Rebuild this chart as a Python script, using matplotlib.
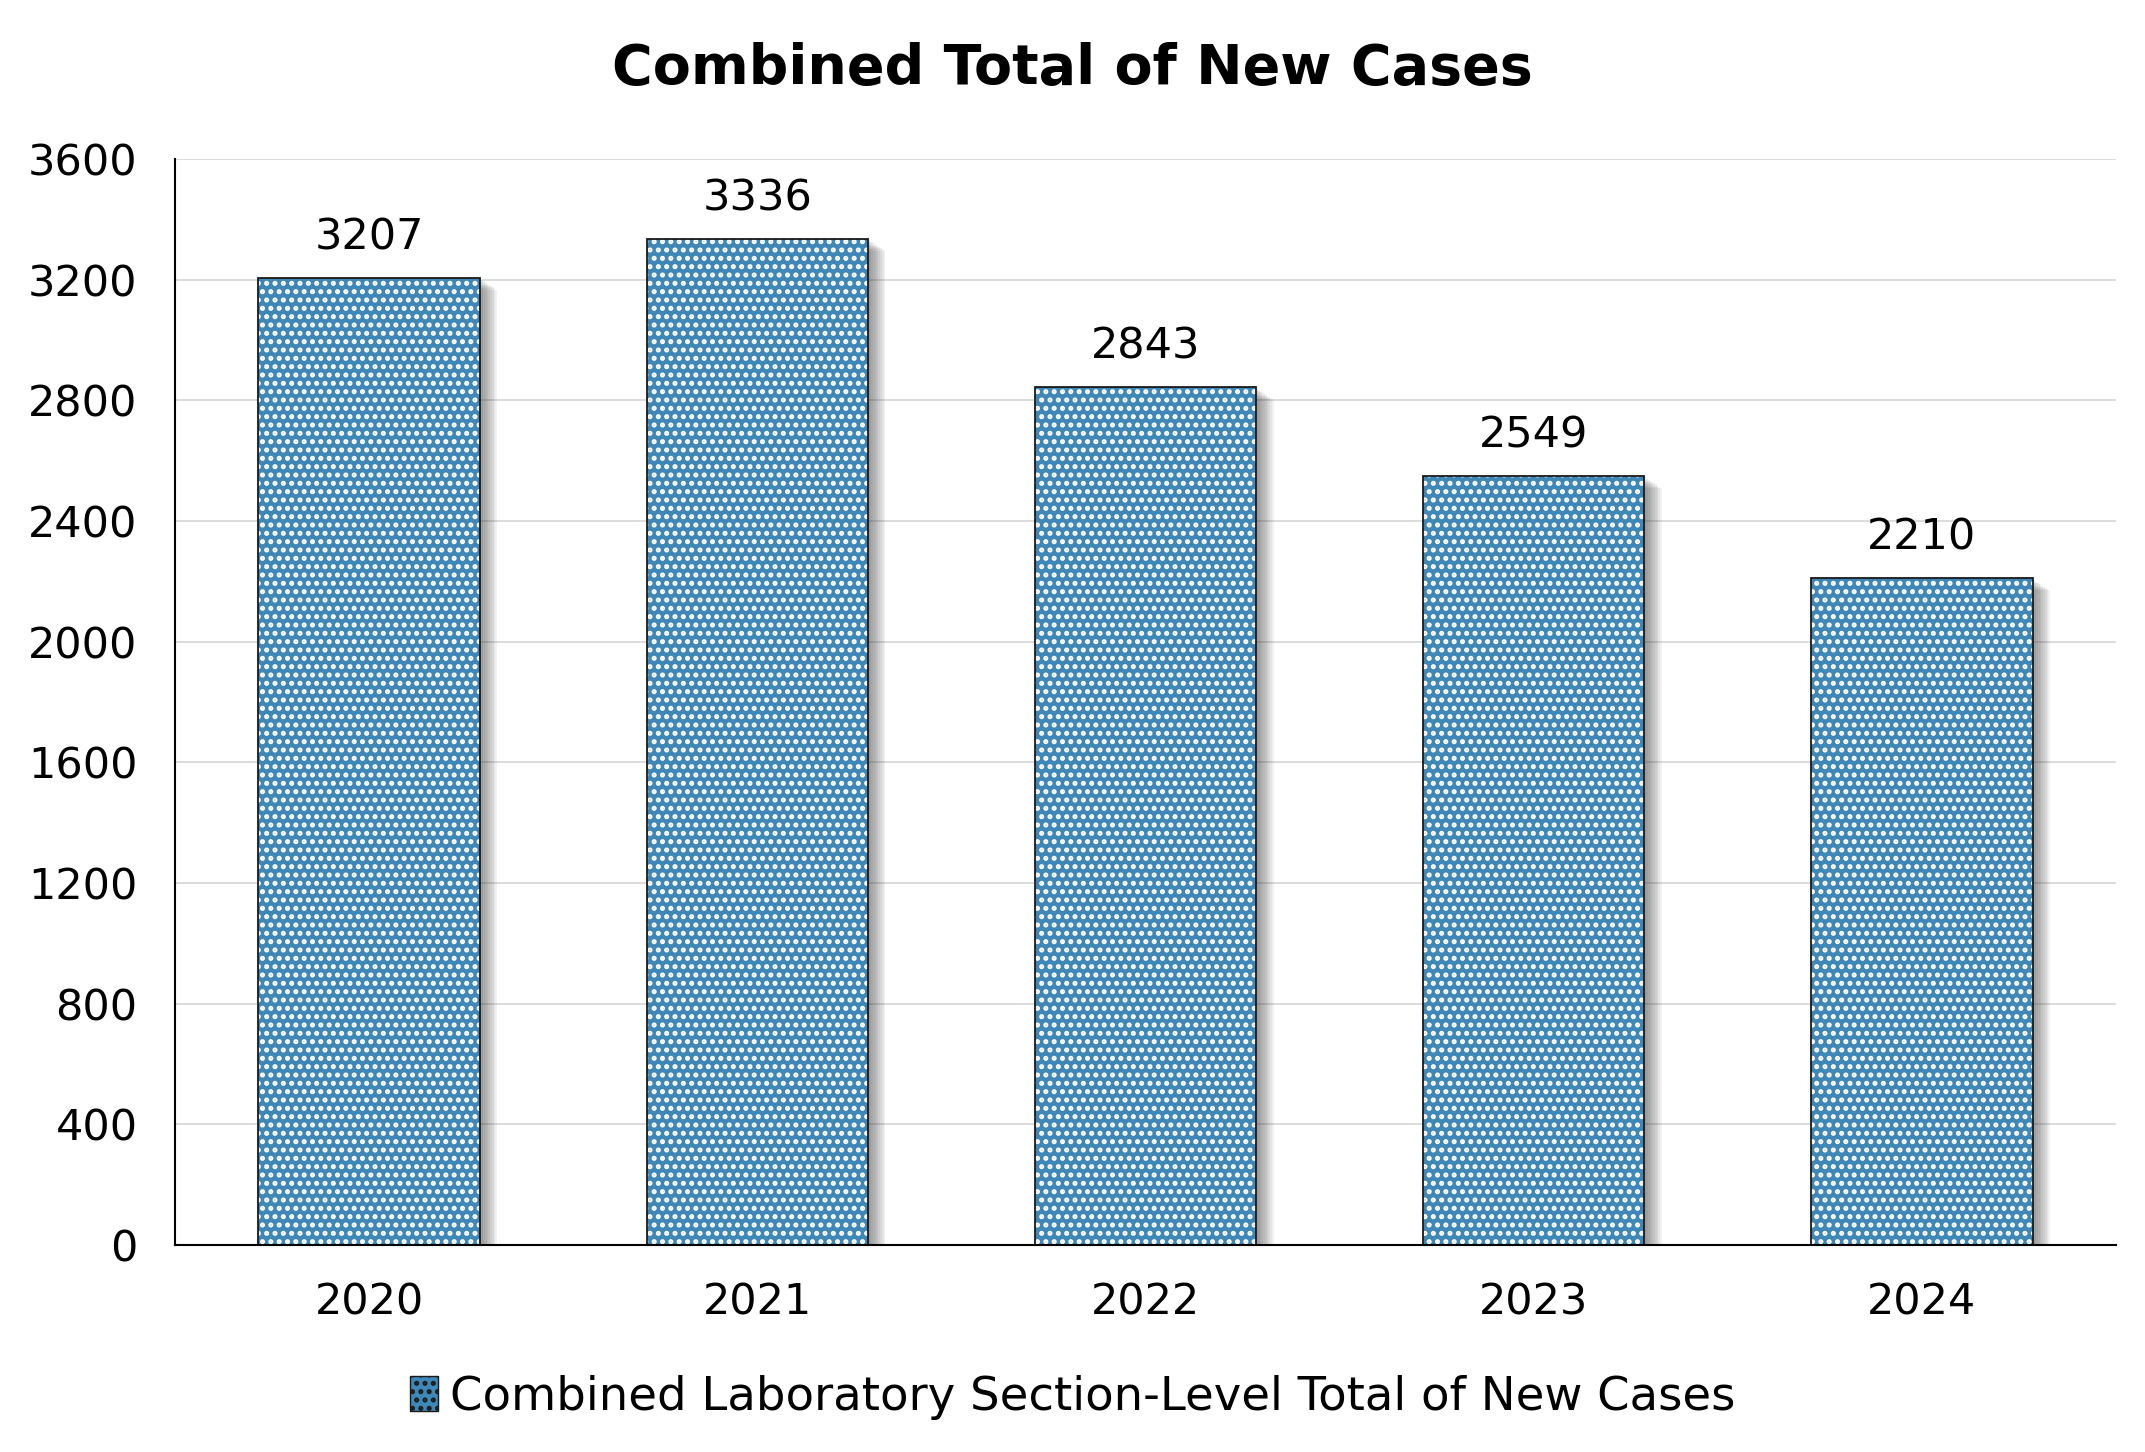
import numpy as np
import matplotlib.pyplot as plt
from matplotlib.patches import Patch

years = ["2020", "2021", "2022", "2023", "2024"]
new_cases = [3207, 3336, 2843, 2549, 2210]
series_name = "Combined Laboratory Section-Level Total of New Cases"

bar_blue = "#3f87b6"
plt.rcParams['font.family'] = ['DejaVu Sans']
plt.rcParams['hatch.linewidth'] = 2.4

fig = plt.figure(figsize=(21.45, 14.52), dpi=100)
ax = fig.add_axes([175 / 2145, 1 - 1245 / 1452, (2116 - 175) / 2145, (1245 - 159) / 1452])

x = np.arange(len(years))
w = 0.57

# soft shadow to the right / below
for k in range(1, 11):
    ax.bar(x + 0.0045 * k, new_cases, w, bottom=-4 * k, color="#404040",
           alpha=0.07, linewidth=0, zorder=2)

ax.bar(x, new_cases, w, color=bar_blue, edgecolor="white", hatch="..",
       linewidth=0, zorder=3)
ax.bar(x, new_cases, w, fill=False, edgecolor="#1a1a1a", linewidth=1.3, zorder=4)

for xi, v in zip(x, new_cases):
    ax.annotate(str(v), (xi, v), xytext=(0, 14), textcoords="offset points",
                ha="center", va="bottom", fontsize=31)

ax.set_xlim(-0.5, 4.5)
ax.set_ylim(0, 3600)
ax.set_yticks(np.arange(0, 3601, 400))
ax.set_xticks(x)
ax.set_xticklabels(years)
ax.tick_params(axis="both", length=0, labelsize=31)
ax.tick_params(axis="x", pad=26)
ax.tick_params(axis="y", pad=27)
ax.grid(axis="y", color="#d9d9d9", linewidth=1.3, zorder=0)
ax.set_axisbelow(True)
for s in ["top", "right"]:
    ax.spines[s].set_visible(False)
ax.spines["left"].set_linewidth(1.5)
ax.spines["bottom"].set_linewidth(1.5)
ax.spines["bottom"].set_zorder(5)

fig.text(0.5, 1 - 69 / 1452, "Combined Total of New Cases", ha="center", va="center",
         fontsize=40, fontweight="bold")

handle = Patch(facecolor=bar_blue, edgecolor="#1a1a1a", hatch="..", linewidth=1)
fig.legend([handle], [series_name], loc="center", bbox_to_anchor=(0.5, 1 - 1397 / 1452),
           frameon=False, fontsize=33.5, handlelength=0.6, handleheight=0.8,
           handletextpad=0.25)

fig.savefig("out.png", dpi=100)
